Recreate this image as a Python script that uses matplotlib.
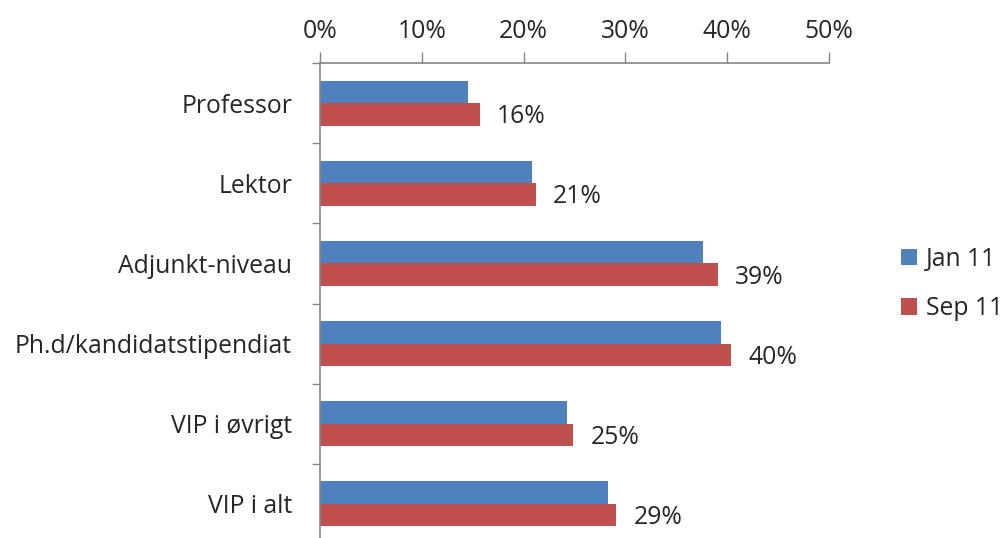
import matplotlib
matplotlib.use("Agg")
import matplotlib.pyplot as plt
import numpy as np

categories = ["Professor", "Lektor", "Adjunkt-niveau", "Ph.d/kandidatstipendiat", "VIP i øvrigt", "VIP i alt"]
jan11 = [14.5, 20.8, 37.6, 39.4, 24.3, 28.3]
sep11 = [15.7, 21.2, 39.1, 40.4, 24.9, 29.1]
sep11_labels = ["16%", "21%", "39%", "40%", "25%", "29%"]
xticks = [0, 10, 20, 30, 40, 50]
xtick_labels = ["0%", "10%", "20%", "30%", "40%", "50%"]
series_names = ["Jan 11", "Sep 11"]

blue = "#4F81BD"
red = "#C0504D"
gray = "#868686"
txt = "#262626"
FS = 17.8

plt.rcParams['font.family'] = ['Open Sans', 'DejaVu Sans']

fig = plt.figure(figsize=(10.03, 5.38), dpi=100)
ax = fig.add_axes([320/1003, -6/538, (829-320)/1003, (544-63)/538])

n = len(categories)
y = np.arange(n)
h = 0.28
b1 = ax.barh(y - h/2, jan11, height=h, color=blue, label=series_names[0])
b2 = ax.barh(y + h/2, sep11, height=h, color=red, label=series_names[1])

for yi, v, lab in zip(y, sep11, sep11_labels):
    ax.text(v + 1.7, yi + h/2 + 0.03, lab, va="center", ha="left", fontsize=FS, color=txt)

ax.set_ylim(n - 0.5, -0.5)
ax.set_xlim(0, 50)
ax.xaxis.tick_top()
ax.set_xticks(xticks)
ax.set_xticklabels(xtick_labels, fontsize=FS, color=txt)
ax.tick_params(axis="x", direction="out", length=8, width=1, color=gray, pad=6)

ax.set_yticks(y)
ax.set_yticklabels(categories, fontsize=FS, color=txt)
ax.tick_params(axis="y", which="major", length=0, pad=20)
ax.set_yticks(np.arange(n + 1) - 0.5, minor=True)
ax.tick_params(axis="y", which="minor", direction="out", length=6, width=1, color=gray)

for s in ["right", "bottom"]:
    ax.spines[s].set_visible(False)
for s in ["top", "left"]:
    ax.spines[s].set_color(gray)
    ax.spines[s].set_linewidth(1.2)

leg = fig.legend(handles=[b1, b2], loc="center left", bbox_to_anchor=(901/1003, 1 - 284/538),
                 frameon=False, fontsize=FS, handlelength=0.65, handleheight=0.65,
                 handletextpad=0.35, labelspacing=1.0, borderaxespad=0, borderpad=0)
for t in leg.get_texts():
    t.set_color(txt)

fig.savefig("out.png", dpi=100)
